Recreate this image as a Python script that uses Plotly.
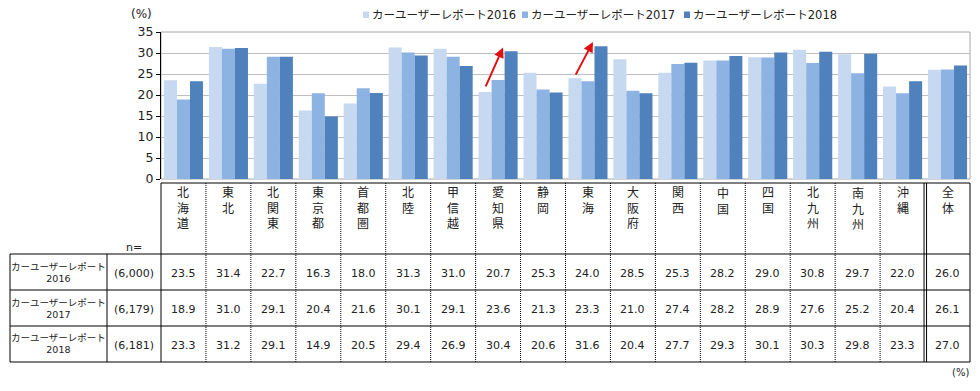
import plotly.graph_objects as go

regions = ["北海道", "東北", "北関東", "東京都", "首都圏", "北陸", "甲信越", "愛知県", "静岡",
           "東海", "大阪府", "関西", "中国", "四国", "北九州", "南九州", "沖縄", "全体"]
series_names = ["カーユーザーレポート2016", "カーユーザーレポート2017", "カーユーザーレポート2018"]
row_labels = ["カーユーザーレポート<br>2016", "カーユーザーレポート<br>2017", "カーユーザーレポート<br>2018"]
n_labels = ["(6,000)", "(6,179)", "(6,181)"]
v2016 = [23.5, 31.4, 22.7, 16.3, 18.0, 31.3, 31.0, 20.7, 25.3, 24.0, 28.5, 25.3, 28.2, 29.0, 30.8, 29.7, 22.0, 26.0]
v2017 = [18.9, 31.0, 29.1, 20.4, 21.6, 30.1, 29.1, 23.6, 21.3, 23.3, 21.0, 27.4, 28.2, 28.9, 27.6, 25.2, 20.4, 26.1]
v2018 = [23.3, 31.2, 29.1, 14.9, 20.5, 29.4, 26.9, 30.4, 20.6, 31.6, 20.4, 27.7, 29.3, 30.1, 30.3, 29.8, 23.3, 27.0]
yticks = [0, 5, 10, 15, 20, 25, 30, 35]

values = [v2016, v2017, v2018]
colors = ["#C6D9F1", "#8DB3E2", "#4F81BD"]

W, H = 980, 391
L, R, T, B = 161, 970, 32, 179
FONT = "DejaVu Sans, Noto Sans CJK JP, sans-serif"


def PX(px):
    return (px - L) / (R - L)


def PY(py):
    return (B - py) / (B - T)


fig = go.Figure()
for name, vals, c in zip(series_names, values, colors):
    fig.add_trace(go.Bar(x=list(range(len(regions))), y=vals, name=name, marker_color=c,
                         marker_line_width=0, showlegend=False, hoverinfo="skip"))

shapes = []
ann = []

# plot border (gray)
shapes.append(dict(type="rect", xref="paper", yref="paper", x0=0, x1=1, y0=0, y1=1,
                   line=dict(color="#A6A6A6", width=1), layer="below"))

# manual legend
leg_x = [363, 522, 684]
for lx, name, c in zip(leg_x, series_names, colors):
    shapes.append(dict(type="rect", xref="paper", yref="paper", x0=PX(lx), x1=PX(lx + 6),
                       y0=PY(18), y1=PY(11.5), fillcolor=c, line=dict(width=0)))
    ann.append(dict(x=PX(lx + 7), y=PY(15), xref="paper", yref="paper", text=name,
                    showarrow=False, xanchor="left", yanchor="middle",
                    font=dict(size=11.5, color="#222", family=FONT)))

ann.append(dict(x=PX(141), y=PY(14), xref="paper", yref="paper", text="(%)", showarrow=False,
                xanchor="center", yanchor="middle", font=dict(size=12, color="#222", family=FONT)))

# table geometry
ncol = len(regions)
colw = (R - L) / ncol
top, hdr, rows_y = 183, 254, [254, 290, 326, 362]
blk = dict(color="black", width=1)


def hline(x0, x1, y):
    shapes.append(dict(type="line", xref="paper", yref="paper", x0=PX(x0), x1=PX(x1),
                       y0=PY(y), y1=PY(y), line=blk))


def vline(x, y0, y1, dash=None):
    ln = dict(color="black", width=1)
    if dash:
        ln["dash"] = dash
    shapes.append(dict(type="line", xref="paper", yref="paper", x0=PX(x), x1=PX(x),
                       y0=PY(y0), y1=PY(y1), line=ln))


hline(L, R, top)
for y in rows_y:
    hline(10, R, y)
vline(L, top, 362)
vline(R, top, 362)
vline(10, hdr, 362)
vline(107, hdr, 362)
for i in range(1, ncol - 1):
    vline(L + i * colw, top, 362, dash="1px,1px")
xd = L + (ncol - 1) * colw
vline(xd - 1, top, 362)
vline(xd + 1.5, top, 362)

# header text (vertical)
for i, r in enumerate(regions):
    cx = L + (i + 0.5) * colw
    ann.append(dict(x=PX(cx), y=PY(184), xref="paper", yref="paper", text="<br>".join(r),
                    showarrow=False, xanchor="center", yanchor="top",
                    font=dict(size=12, color="#222", family=FONT)))

ann.append(dict(x=PX(134), y=PY(247), xref="paper", yref="paper", text="n=", showarrow=False,
                xanchor="center", yanchor="middle", font=dict(size=11, color="#222", family=FONT)))

for k in range(3):
    cy = (rows_y[k] + rows_y[k + 1]) / 2
    ann.append(dict(x=PX(58.5), y=PY(cy), xref="paper", yref="paper", text=row_labels[k],
                    showarrow=False, xanchor="center", yanchor="middle",
                    font=dict(size=9.5, color="#222", family=FONT)))
    ann.append(dict(x=PX(134), y=PY(cy + 1), xref="paper", yref="paper", text=n_labels[k],
                    showarrow=False, xanchor="center", yanchor="middle",
                    font=dict(size=11, color="#222", family=FONT)))
    for i in range(ncol):
        cx = L + (i + 0.5) * colw
        ann.append(dict(x=PX(cx), y=PY(cy + 1), xref="paper", yref="paper",
                        text=f"{values[k][i]:.1f}", showarrow=False, xanchor="center",
                        yanchor="middle", font=dict(size=11, color="#222", family=FONT)))

ann.append(dict(x=PX(960), y=PY(372), xref="paper", yref="paper", text="(%)", showarrow=False,
                xanchor="center", yanchor="middle", font=dict(size=10, color="#222", family=FONT)))

# red arrows (愛知県, 東海)
for xi, tail_y, head_y in [(7, 21.7, 31.3), (9, 24.5, 32.6)]:
    ann.append(dict(x=xi + 0.11, y=head_y, ax=xi - 0.29, ay=tail_y, xref="x", yref="y",
                    axref="x", ayref="y", text="", showarrow=True, arrowhead=2,
                    arrowsize=1, arrowwidth=2, arrowcolor="#E01010"))

fig.update_layout(
    width=W, height=H,
    margin=dict(l=L, r=W - R, t=T, b=H - B),
    paper_bgcolor="white", plot_bgcolor="white",
    barmode="group", bargap=0.13, bargroupgap=0,
    shapes=shapes, annotations=ann,
    font=dict(family=FONT, color="#222"),
    hovermode=False,
    xaxis=dict(range=[-0.5, ncol - 0.5], showticklabels=False, showgrid=False,
               zeroline=False, showline=False, fixedrange=True),
    yaxis=dict(range=[0, 35], tickvals=yticks, showgrid=True, gridcolor="#BFBFBF",
               gridwidth=1, zeroline=False, showline=True, linecolor="black", linewidth=1,
               ticks="outside", ticklen=4, tickcolor="black", fixedrange=True,
               tickfont=dict(size=12.5, color="#222", family=FONT)),
    showlegend=False,
)

fig.write_html("out.html", config={"displayModeBar": False, "staticPlot": False},
               post_script="document.body.style.margin='0';document.body.style.padding='0';")
